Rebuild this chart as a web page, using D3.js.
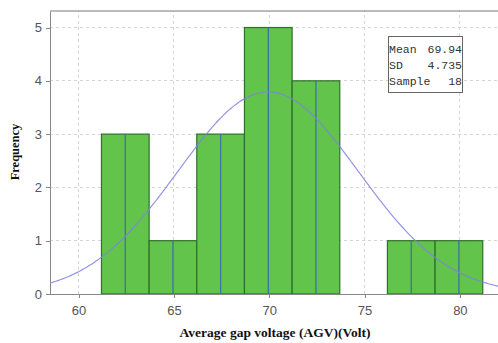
<!DOCTYPE html>
<html lang="en">
<head>
<meta charset="utf-8">
<title>AGV histogram</title>
<style>
body{
  margin: 0;
  background: #fff;
}
.axis text{
  font: 13px "Liberation Sans", Arial, sans-serif;
  fill: #555;
}
.axis path, .axis line{
  stroke: #888;
  shape-rendering: crispEdges;
}
.grid line{
  stroke: #d4d4d4;
  stroke-dasharray: 3,3;
  shape-rendering: crispEdges;
}
.title{
  font: bold 13.5px "Liberation Serif", "Times New Roman", serif;
  fill: #111;
}
.stats text{
  font: 11.5px "Liberation Mono", monospace;
  fill: #333;
}
</style>
</head>
<body>
<div id="chart"></div>
<script src="https://d3js.org/d3.v7.min.js"></script>
<script>
  // histogram values
  const binEdges = [61.2, 63.7, 66.2, 68.7, 71.2, 73.7, 76.2, 78.7, 81.2];
  const counts = [3, 1, 3, 5, 4, 0, 1, 1];
  const xTicks = [60, 65, 70, 75, 80];
  const yTicks = [0, 1, 2, 3, 4, 5];
  const statLabels = ["Mean", "SD", "Sample"];
  const statValues = ["69.94", "4.735", "18"];
  const mean = 69.94, sd = 4.735, sample = 18, binWidth = 2.5;

  const width = 498;
  const height = 343;
  const margin = { top: 11, right: 0, bottom: 49, left: 50 };

  const svg = d3.select("#chart")
    .append("svg")
    .attr("width", width)
    .attr("height", height);

  const x = d3.scaleLinear()
    .domain([58.5, 82])
    .range([margin.left, width - margin.right]);

  const y = d3.scaleLinear()
    .domain([0, 5.31])
    .range([height - margin.bottom, margin.top]);

  // gridlines
  const grid = svg.append("g").attr("class", "grid");
  grid.selectAll(".gx")
    .data(xTicks)
    .enter().append("line")
    .attr("x1", d => x(d)).attr("x2", d => x(d))
    .attr("y1", y.range()[0]).attr("y2", y.range()[1]);
  grid.selectAll(".gy")
    .data(yTicks.slice(1))
    .enter().append("line")
    .attr("x1", x.range()[0]).attr("x2", x.range()[1])
    .attr("y1", d => y(d)).attr("y2", d => y(d));

  // bins
  const bins = counts.map((c, i) => ({ x0: binEdges[i], x1: binEdges[i + 1], n: c }))
    .filter(d => d.n > 0);

  svg.selectAll("rect.bar")
    .data(bins)
    .enter().append("rect")
    .attr("class", "bar")
    .attr("x", d => x(d.x0))
    .attr("y", d => y(d.n))
    .attr("width", d => x(d.x1) - x(d.x0))
    .attr("height", d => y(0) - y(d.n))
    .attr("fill", "#62c44b")
    .attr("stroke", "#2f6f2a")
    .attr("stroke-width", 1.2);

  // centre lines inside each bar
  svg.selectAll("line.mid")
    .data(bins)
    .enter().append("line")
    .attr("x1", d => x((d.x0 + d.x1) / 2))
    .attr("x2", d => x((d.x0 + d.x1) / 2))
    .attr("y1", d => y(d.n))
    .attr("y2", y(0))
    .attr("stroke", "#3f72a6")
    .attr("stroke-width", 1.3);

  // top frame
  svg.append("line")
    .attr("x1", x.range()[0]).attr("x2", x.range()[1])
    .attr("y1", y.range()[1]).attr("y2", y.range()[1])
    .attr("stroke", "#777");

  // fitted normal curve from the stats shown in the box
  const xs = d3.range(58.5, 82.01, 0.1);
  const scale = sample * binWidth / (sd * Math.sqrt(2 * Math.PI));
  const curve = d3.line()
    .x(d => x(d))
    .y(d => y(scale * Math.exp(-((d - mean) ** 2) / (2 * sd * sd))))
    .curve(d3.curveBasis);
  svg.append("path")
    .datum(xs)
    .attr("d", curve)
    .attr("fill", "none")
    .attr("stroke", "#7f83e0")
    .attr("stroke-opacity", 0.85)
    .attr("stroke-width", 1.2);

  // axes
  svg.append("g")
    .attr("class", "axis")
    .attr("transform", `translate(0,${height - margin.bottom})`)
    .call(d3.axisBottom(x).tickValues(xTicks).tickSize(4).tickSizeOuter(0).tickPadding(8));

  svg.append("g")
    .attr("class", "axis")
    .attr("transform", `translate(${margin.left},0)`)
    .call(d3.axisLeft(y).tickValues(yTicks).tickFormat(d3.format("d"))
      .tickSize(4).tickSizeOuter(0).tickPadding(4));

  // axis titles
  svg.append("text")
    .attr("class", "title")
    .attr("x", 275)
    .attr("y", 337)
    .attr("text-anchor", "middle")
    .text("Average gap voltage (AGV)(Volt)");

  svg.append("text")
    .attr("class", "title")
    .attr("transform", "translate(19,152) rotate(-90)")
    .attr("text-anchor", "middle")
    .style("font-size", "12.5px")
    .text("Frequency");

  // stats box
  const box = svg.append("g").attr("class", "stats");
  box.append("rect")
    .attr("x", 388.5).attr("y", 36.5)
    .attr("width", 74).attr("height", 56)
    .attr("fill", "#fff")
    .attr("stroke", "#666");
  box.selectAll("text.lab")
    .data(statLabels)
    .enter().append("text")
    .attr("x", 389)
    .attr("y", (d, i) => 53 + i * 16)
    .text(d => d);
  box.selectAll("text.val")
    .data(statValues)
    .enter().append("text")
    .attr("x", 462)
    .attr("y", (d, i) => 53 + i * 16)
    .attr("text-anchor", "end")
    .text(d => d);
</script>
</body>
</html>
